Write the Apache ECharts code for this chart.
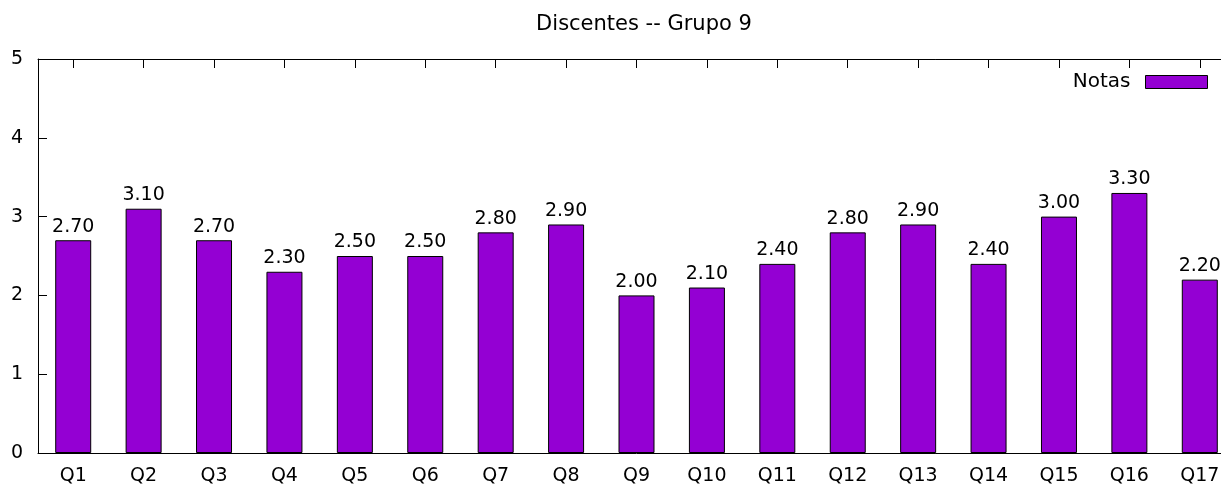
<!DOCTYPE html>
<html><head><meta charset="utf-8">
<script src="https://cdn.jsdelivr.net/npm/echarts@6/dist/echarts.min.js"></script>
<style>html,body{margin:0;padding:0;background:#fff;overflow:hidden;width:1221px;height:491px}#c{width:1235px;height:491px}</style>
</head><body><div id="c"></div>
<script>
const categories = ['Q1','Q2','Q3','Q4','Q5','Q6','Q7','Q8','Q9','Q10','Q11','Q12','Q13','Q14','Q15','Q16','Q17'];
const notas = [2.70,3.10,2.70,2.30,2.50,2.50,2.80,2.90,2.00,2.10,2.40,2.80,2.90,2.40,3.00,3.30,2.20];
const yTicks = [0,1,2,3,4,5];
const font = '"DejaVu Sans", sans-serif';
const chart = echarts.init(document.getElementById('c'), null, {renderer:'canvas'});
chart.setOption({
  animation:false,
  backgroundColor:'#fff',
  title:{text:'Discentes -- Grupo 9', left:639, top:9, textAlign:'center',
    textStyle:{fontFamily:font, fontSize:21, fontWeight:'normal', color:'#000'}},
  legend:{data:['Notas'], right:22, top:67, align:'right', itemWidth:62, itemHeight:13, itemGap:8,
    icon:'rect', textStyle:{fontFamily:font, fontSize:20, color:'#000', padding:[0,10,0,0]},
    itemStyle:{borderColor:'#000', borderWidth:1}},
  grid:{left:38, right:0, top:59, bottom:38, show:false},
  xAxis:[{type:'category', data:categories, position:'bottom',
      axisLine:{show:true, lineStyle:{color:'#000', width:1}},
      axisTick:{show:false},
      axisLabel:{fontFamily:font, fontSize:19, color:'#000', margin:14}},
    {type:'category', data:categories, position:'top',
      axisLine:{show:true, lineStyle:{color:'#000', width:1}},
      axisTick:{show:true, inside:true, alignWithLabel:true, length:9, lineStyle:{color:'#000'}},
      axisLabel:{show:false}}],
  yAxis:{type:'value', min:0, max:5, interval:1,
    axisLine:{show:true, lineStyle:{color:'#000', width:1}},
    axisTick:{show:true, inside:true, length:9, lineStyle:{color:'#000'}},
    splitLine:{show:false},
    axisLabel:{fontFamily:font, fontSize:19, color:'#000', margin:15,
      formatter:v=> yTicks.includes(v) ? String(v) : ''}},
  series:[{name:'Notas', type:'bar', data:notas, barWidth:36,
    itemStyle:{color:'#9400D3', borderColor:'#000', borderWidth:1},
    label:{show:true, position:'top', distance:4, fontFamily:font, fontSize:19, color:'#000',
      formatter:p=>p.value.toFixed(2)}}]
});
</script></body></html>
